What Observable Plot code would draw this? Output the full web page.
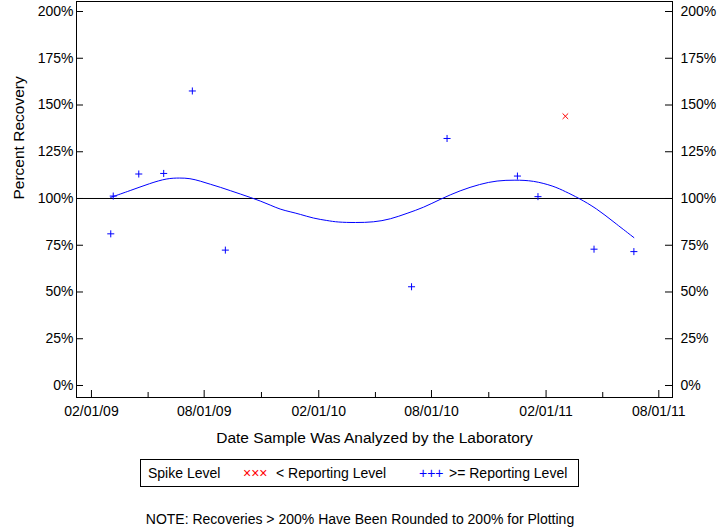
<!DOCTYPE html>
<html><head><meta charset="utf-8">
<script src="https://cdn.jsdelivr.net/npm/d3@7"></script>
<script src="https://cdn.jsdelivr.net/npm/@observablehq/plot@0.6"></script>
<style>
body{margin:0;background:#fff;}
#wrap{position:relative;width:720px;height:528px;font-family:"Liberation Sans",Arial,sans-serif;font-size:14px;color:#000;overflow:hidden;}
#legend{position:absolute;left:140px;top:459px;width:437px;height:26px;border:1px solid #000;}
.lt{position:absolute;top:5px;white-space:nowrap;line-height:16px;}
#note{position:absolute;left:0;width:720px;text-align:center;top:511px;line-height:16px;}
svg{display:block;}
</style></head><body><div id="wrap"></div>
<script>
// Data
const hiDates = ["2009-03-04","2009-03-08","2009-04-18","2009-05-28","2009-07-13","2009-09-04","2010-06-30","2010-08-26","2010-12-17","2011-01-19","2011-04-19","2011-06-22"];
const hiValues = [81.1,101.3,113.1,113.4,157.5,72.4,52.8,132.1,112.0,101.0,72.9,71.6];
const loDates = ["2011-03-04"];
const loValues = [144.0];
const curveDates = ["2009-03-04","2009-04-04","2009-05-06","2009-06-02","2009-06-23","2009-07-09","2009-07-26","2009-08-11","2009-08-27","2009-09-12","2009-09-28","2009-10-14","2009-10-30","2009-11-15","2009-12-01","2009-12-17","2010-01-02","2010-01-23","2010-02-15","2010-03-03","2010-04-01","2010-04-30","2010-05-27","2010-06-23","2010-07-19","2010-08-15","2010-09-16","2010-10-18","2010-11-14","2010-12-13","2011-01-11","2011-02-13","2011-03-04","2011-03-25","2011-04-23","2011-05-20","2011-06-22"];
const curveValues = [100.6,104.2,108.1,110.8,111.0,110.8,109.3,107.6,106.0,104.2,102.4,100.6,98.7,96.5,94.2,92.9,91.6,89.4,88.2,87.3,87.1,87.3,88.9,92.1,95.1,99.6,104.3,107.7,109.6,109.9,109.6,106.7,103.7,100.3,94.7,87.6,79.1];
const yTicks = [0,25,50,75,100,125,150,175,200];
const xMajor = ["2009-02-01","2009-08-01","2010-02-01","2010-08-01","2011-02-01","2011-08-01"];
const xMinor = ["2009-05-03","2009-11-01","2010-05-03","2010-11-01","2011-05-03"];
const xDomain = ["2009-01-08","2011-08-23"];
const yDomain = [-6.42,205.35];

const P = s => new Date(s + "T00:00:00Z");
const hi = hiDates.map((d,i)=>({date:P(d), value:hiValues[i]}));
const lo = loDates.map((d,i)=>({date:P(d), value:loValues[i]}));
const curve = curveDates.map((d,i)=>({date:P(d), value:curveValues[i]}));
const major = xMajor.map(P), minor = xMinor.map(P);

const W=720, H=450, mL=76, mR=48, mT=1, mB=53;
const pw = W-mL-mR, ph = H-mT-mB;
const pct = d => d + "%";

const chart = Plot.plot({
  width:W, height:H, marginLeft:mL, marginRight:mR, marginTop:mT, marginBottom:mB,
  style:{fontFamily:"'Liberation Sans', Arial, sans-serif", fontSize:"14px", color:"#000", background:"#fff"},
  x:{type:"utc", domain:xDomain.map(P)},
  y:{domain:yDomain},
  marks:[
    Plot.ruleY([100],{stroke:"#000"}),
    Plot.line(curve,{x:"date", y:"value", stroke:"#0000ff", strokeWidth:1, curve:"basis"}),
    Plot.dot(hi,{x:"date", y:"value", symbol:"plus", r:2.4, stroke:"#0000ff", strokeWidth:1}),
    Plot.dot(lo,{x:"date", y:"value", symbol:"times", r:2.65, stroke:"#ff0000", strokeWidth:1}),
    Plot.tickY(yTicks,{y:d=>d, insetRight:pw-7, stroke:"#000"}),
    Plot.tickY(yTicks,{y:d=>d, insetLeft:pw-7, stroke:"#000"}),
    Plot.tickX(major,{x:d=>d, insetTop:ph-7, stroke:"#000"}),
    Plot.tickX(minor,{x:d=>d, insetTop:ph-5, stroke:"#000"}),
    Plot.frame({stroke:"#000"}),
    Plot.axisY(yTicks,{anchor:"left", tickSize:0, tickPadding:3, tickFormat:pct, label:null}),
    Plot.axisY(yTicks,{anchor:"right", tickSize:0, tickPadding:8, tickFormat:pct, label:null}),
    Plot.axisX(major,{anchor:"bottom", tickSize:0, tickPadding:9, tickFormat:d3.utcFormat("%m/%d/%y"), label:null}),
    Plot.text(["Date Sample Was Analyzed by the Laboratory"],{text:d=>d, frameAnchor:"bottom", dy:45, fill:"#000", fontSize:15.5}),
    Plot.text(["Percent Recovery"],{text:d=>d, frameAnchor:"left", dx:-57, rotate:-90, fill:"#000", fontSize:15.5})
  ]
});
const wrap = document.getElementById("wrap");
wrap.appendChild(chart);

const legend = document.createElement("div");
legend.id = "legend";
const items = [
  {t:"Spike Level", l:7, c:"#000"},
  {t:"\u00d7\u00d7\u00d7", l:102, c:"#ff0000"},
  {t:"< Reporting Level", l:135, c:"#000"},
  {t:"+++", l:278, c:"#0000ff"},
  {t:">= Reporting Level", l:308, c:"#000"}
];
for (const it of items) {
  const s = document.createElement("span");
  s.className = "lt"; s.textContent = it.t; s.style.left = it.l + "px"; s.style.color = it.c;
  legend.appendChild(s);
}
wrap.appendChild(legend);
const note = document.createElement("div");
note.id = "note";
note.textContent = "NOTE: Recoveries > 200% Have Been Rounded to 200% for Plotting";
wrap.appendChild(note);
</script>
</body></html>
